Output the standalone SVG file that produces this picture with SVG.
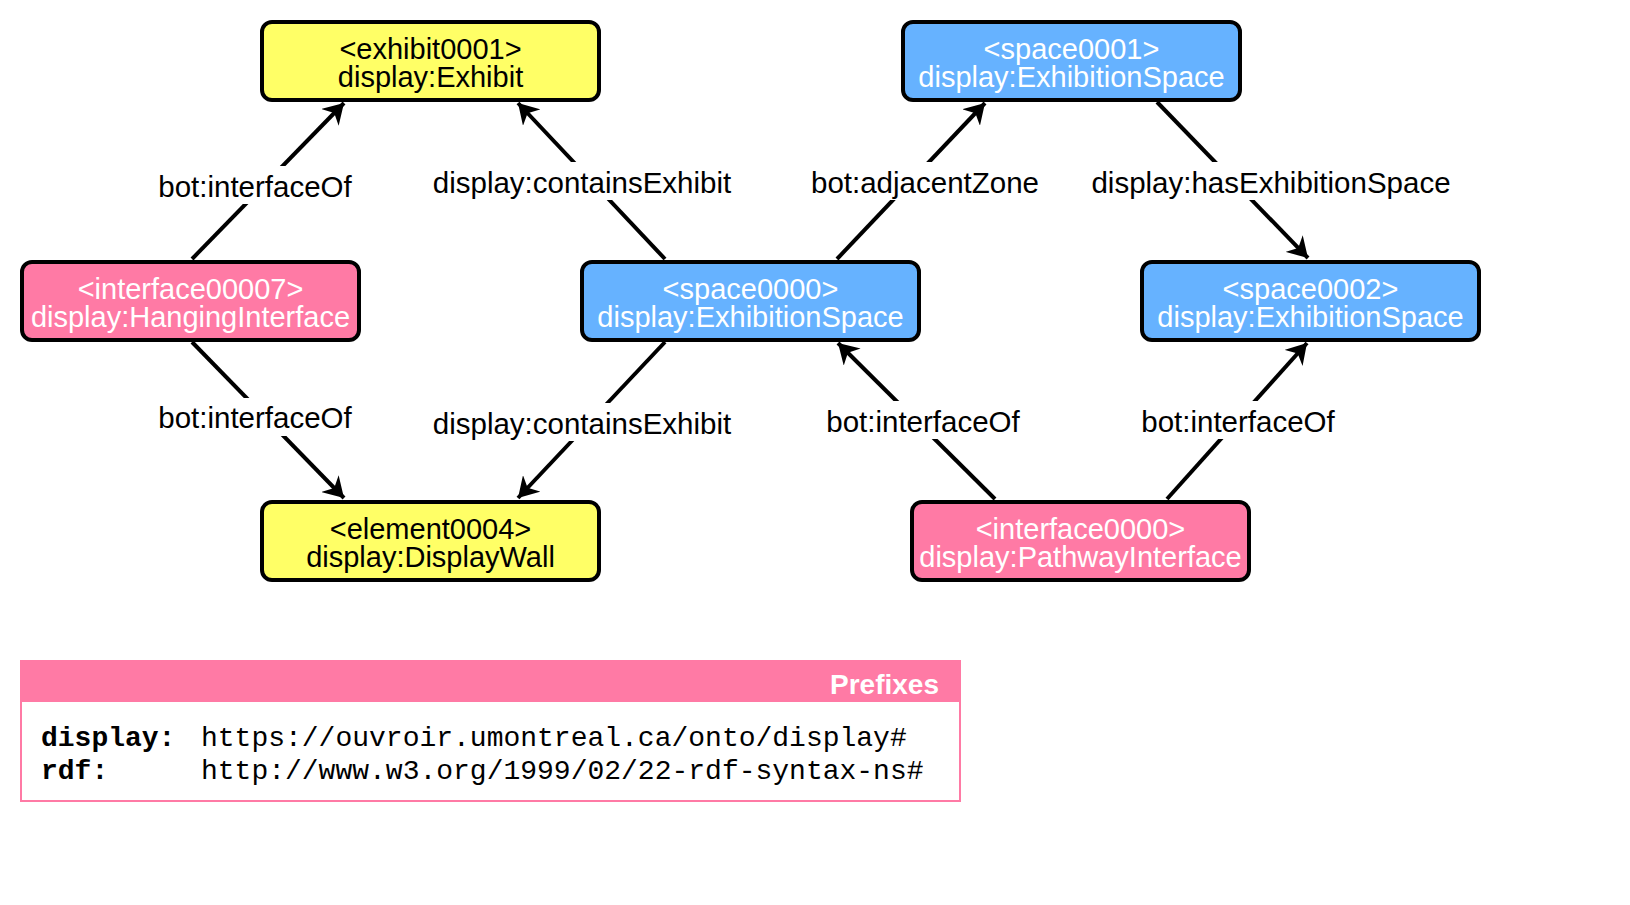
<svg xmlns="http://www.w3.org/2000/svg" width="1630" height="905" viewBox="0 0 1630 905">
<style>
.box{stroke:#000;stroke-width:4}
.yellow{fill:#FFFF66}
.blue{fill:#66B2FF}
.pink{fill:#FF7AA5}
.nt{font-family:"Liberation Sans",Arial,sans-serif;font-size:29px;text-anchor:middle}
.dark{fill:#000}
.light{fill:#fff}
.edge{stroke:#000;stroke-width:4;fill:none}
.lbl{font-family:"Liberation Sans",Arial,sans-serif;font-size:29.5px;text-anchor:middle;fill:#000}
.lbg{fill:#fff}
.mono{font-family:"Liberation Mono","Courier New",monospace;font-size:28px;fill:#000}
</style>
<defs>
<marker id="arr" markerUnits="userSpaceOnUse" markerWidth="22" markerHeight="24" viewBox="0 0 22 24" refX="20" refY="12" orient="auto">
<path d="M0,0 L20,12 L0,24 L6,12 Z" fill="#000"/>
</marker>
</defs>
<rect width="1630" height="905" fill="#fff"/>
<g id="connectors">
<path class="edge" d="M192,259 L344,103" marker-end="url(#arr)"/>
<path class="edge" d="M665,259 L518,103" marker-end="url(#arr)"/>
<path class="edge" d="M837,259 L985,103" marker-end="url(#arr)"/>
<path class="edge" d="M1157,102 L1308,258" marker-end="url(#arr)"/>
<path class="edge" d="M192,342 L344,498" marker-end="url(#arr)"/>
<path class="edge" d="M665,342 L518,498" marker-end="url(#arr)"/>
<path class="edge" d="M995,499 L838,343" marker-end="url(#arr)"/>
<path class="edge" d="M1167,499 L1307,343" marker-end="url(#arr)"/>
<rect class="lbg" x="155" y="166" width="200" height="38"/>
<text class="lbl" x="255" y="197">bot:interfaceOf</text>
<rect class="lbg" x="430" y="162" width="305" height="38"/>
<text class="lbl" x="582" y="193">display:containsExhibit</text>
<rect class="lbg" x="810" y="162" width="230" height="38"/>
<text class="lbl" x="925" y="193">bot:adjacentZone</text>
<rect class="lbg" x="1092" y="162" width="358" height="38"/>
<text class="lbl" x="1271" y="193">display:hasExhibitionSpace</text>
<rect class="lbg" x="155" y="398" width="200" height="38"/>
<text class="lbl" x="255" y="428">bot:interfaceOf</text>
<rect class="lbg" x="430" y="403" width="305" height="38"/>
<text class="lbl" x="582" y="434">display:containsExhibit</text>
<rect class="lbg" x="823" y="401" width="200" height="38"/>
<text class="lbl" x="923" y="432">bot:interfaceOf</text>
<rect class="lbg" x="1138" y="401" width="200" height="38"/>
<text class="lbl" x="1238" y="432">bot:interfaceOf</text>
</g>
<g id="exhibit0001">
<rect class="box yellow" x="262" y="22" width="337" height="78" rx="10"/>
<text class="nt dark" x="430.5" y="58.5">&lt;exhibit0001&gt;</text>
<text class="nt dark" x="430.5" y="86.5">display:Exhibit</text>
</g>
<g id="interface00007">
<rect class="box pink" x="22" y="262" width="337" height="78" rx="10"/>
<text class="nt light" x="190.5" y="298.5">&lt;interface00007&gt;</text>
<text class="nt light" x="190.5" y="326.5">display:HangingInterface</text>
</g>
<g id="space0000">
<rect class="box blue" x="582" y="262" width="337" height="78" rx="10"/>
<text class="nt light" x="750.5" y="298.5">&lt;space0000&gt;</text>
<text class="nt light" x="750.5" y="326.5">display:ExhibitionSpace</text>
</g>
<g id="space0001">
<rect class="box blue" x="903" y="22" width="337" height="78" rx="10"/>
<text class="nt light" x="1071.5" y="58.5">&lt;space0001&gt;</text>
<text class="nt light" x="1071.5" y="86.5">display:ExhibitionSpace</text>
</g>
<g id="space0002">
<rect class="box blue" x="1142" y="262" width="337" height="78" rx="10"/>
<text class="nt light" x="1310.5" y="298.5">&lt;space0002&gt;</text>
<text class="nt light" x="1310.5" y="326.5">display:ExhibitionSpace</text>
</g>
<g id="element0004">
<rect class="box yellow" x="262" y="502" width="337" height="78" rx="10"/>
<text class="nt dark" x="430.5" y="538.5">&lt;element0004&gt;</text>
<text class="nt dark" x="430.5" y="566.5">display:DisplayWall</text>
</g>
<g id="interface0000">
<rect class="box pink" x="912" y="502" width="337" height="78" rx="10"/>
<text class="nt light" x="1080.5" y="538.5">&lt;interface0000&gt;</text>
<text class="nt light" x="1080.5" y="566.5">display:PathwayInterface</text>
</g>
<g id="prefixes">
<rect x="21" y="661" width="939" height="140" fill="#fff" stroke="#FF7AA5" stroke-width="2"/>
<rect x="21" y="661" width="939" height="41" fill="#FF7AA5"/>
<text x="939" y="694" font-family="'Liberation Sans',Arial,sans-serif" font-size="28" font-weight="bold" fill="#fff" text-anchor="end">Prefixes</text>
<text class="mono" x="41" y="746" font-weight="bold">display:</text>
<text class="mono" x="201" y="746">https://ouvroir.umontreal.ca/onto/display#</text>
<text class="mono" x="41" y="779" font-weight="bold">rdf:</text>
<text class="mono" x="201" y="779">http://www.w3.org/1999/02/22-rdf-syntax-ns#</text>
</g>
</svg>
